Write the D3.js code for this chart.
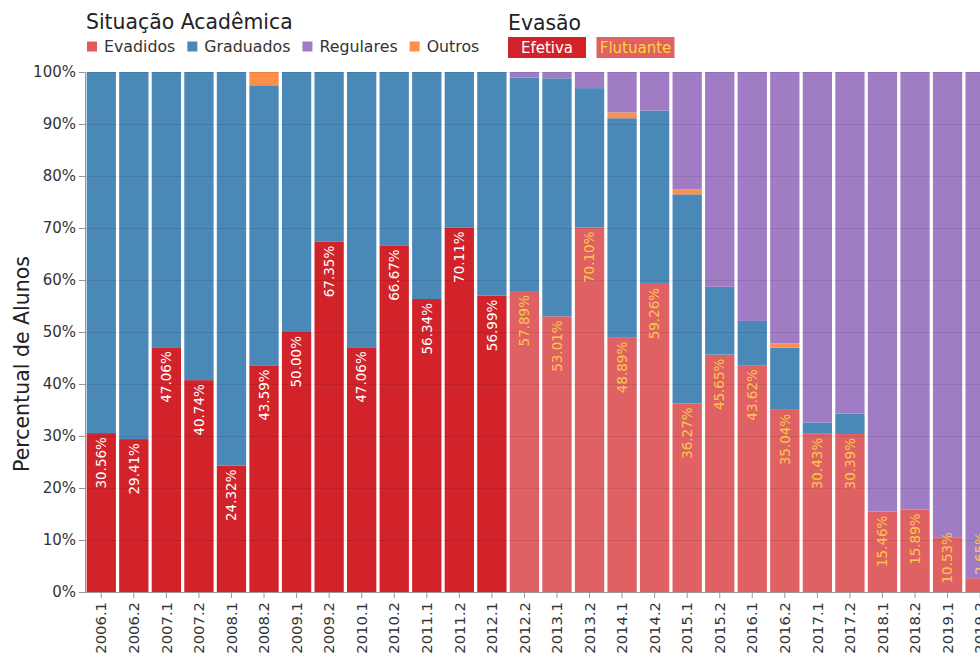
<!DOCTYPE html>
<html>
<head>
<meta charset="utf-8">
<script src="https://cdn.jsdelivr.net/npm/d3@7"></script>
<style>
  body { margin: 0; overflow: hidden; background: #fff; }
  text { font-family: "DejaVu Sans", sans-serif; }
</style>
</head>
<body>
<svg id="chart" width="1000" height="657"></svg>
<script>
// semesters and percentages per academic situation
const semestres = ['2006.1', '2006.2', '2007.1', '2007.2', '2008.1', '2008.2', '2009.1', '2009.2',
  '2010.1', '2010.2', '2011.1', '2011.2', '2012.1', '2012.2', '2013.1', '2013.2', '2014.1', '2014.2',
  '2015.1', '2015.2', '2016.1', '2016.2', '2017.1', '2017.2', '2018.1', '2018.2', '2019.1', '2019.2'];
const evadidos = [30.56, 29.41, 47.06, 40.74, 24.32, 43.59, 50.00, 67.35, 47.06, 66.67, 56.34, 70.11, 56.99,
  57.89, 53.01, 70.10, 48.89, 59.26, 36.27, 45.65, 43.62, 35.04, 30.43, 30.39, 15.46, 15.89, 10.53, 2.65];
const graduados = [69.44, 70.59, 52.94, 59.26, 75.68, 53.85, 50.00, 32.65, 52.94, 33.33, 43.66, 29.89, 43.01,
  41.05, 45.78, 26.80, 42.22, 33.33, 40.20, 13.04, 8.51, 11.97, 2.17, 3.92, 0, 0, 0, 0];
const outros = [0, 0, 0, 0, 0, 2.56, 0, 0, 0, 0, 0, 0, 0,
  0, 0, 0, 1.11, 0, 0.98, 0, 0, 0.79, 0, 0, 0, 0, 0, 0];
const regulares = [0, 0, 0, 0, 0, 0, 0, 0, 0, 0, 0, 0, 0,
  1.06, 1.21, 3.10, 7.78, 7.41, 22.55, 41.31, 47.87, 52.20, 67.40, 65.69, 84.54, 84.11, 89.47, 97.35];
// type of dropout (evasão) per semester
const evasao = ['Efetiva', 'Efetiva', 'Efetiva', 'Efetiva', 'Efetiva', 'Efetiva', 'Efetiva', 'Efetiva',
  'Efetiva', 'Efetiva', 'Efetiva', 'Efetiva', 'Efetiva', 'Flutuante', 'Flutuante', 'Flutuante',
  'Flutuante', 'Flutuante', 'Flutuante', 'Flutuante', 'Flutuante', 'Flutuante', 'Flutuante',
  'Flutuante', 'Flutuante', 'Flutuante', 'Flutuante', 'Flutuante'];

const situacoes = ['Evadidos', 'Graduados', 'Regulares', 'Outros'];
const yTicks = [0, 10, 20, 30, 40, 50, 60, 70, 80, 90, 100];

const color = { Evadidos: '#e05a5c', Graduados: '#4a88b8', Regulares: '#a07cc4', Outros: '#fd8f4b' };
const evasaoFill = { Efetiva: '#d12329', Flutuante: '#e06164' };
const evasaoText = { Efetiva: '#ffffff', Flutuante: '#f9c84a' };

const rows = semestres.map((s, i) => ({
  sem: s, tipo: evasao[i],
  Evadidos: evadidos[i], Graduados: graduados[i], Outros: outros[i], Regulares: regulares[i]
}));

const svg = d3.select('#chart');
const plotLeft = 85, plotTop = 72, plotBottom = 592;

const x = d3.scaleBand()
  .domain(semestres)
  .range([plotLeft, plotLeft + semestres.length * 32.55])
  .paddingInner(0.1)
  .paddingOuter(0.05);

const y = d3.scaleLinear().domain([0, 100]).range([plotBottom, plotTop]);

// stacked bars, bottom to top
const series = d3.stack().keys(['Evadidos', 'Graduados', 'Outros', 'Regulares'])(rows);

svg.append('g').selectAll('g')
  .data(series)
  .join('g')
  .selectAll('rect')
  .data(d => d.map(v => Object.assign(v, { key: d.key })))
  .join('rect')
  .attr('x', d => x(d.data.sem))
  .attr('width', x.bandwidth())
  .attr('y', d => y(d[1]))
  .attr('height', d => y(d[0]) - y(d[1]))
  .attr('fill', d => d.key == 'Evadidos' ? evasaoFill[d.data.tipo] : color[d.key]);

// grid over the bars, faint
svg.append('g').selectAll('line')
  .data(yTicks)
  .join('line')
  .attr('x1', plotLeft).attr('x2', 1000)
  .attr('y1', d => y(d) + 0.5).attr('y2', d => y(d) + 0.5)
  .attr('stroke', '#000').attr('stroke-opacity', 0.08);

// percentage labels, rotated, near top of the evadidos segment
svg.append('g').selectAll('text')
  .data(rows)
  .join('text')
  .attr('transform', d => 'translate(' + (x(d.sem) + x.bandwidth() / 2) + ',' +
    (y(Math.max(d.Evadidos, 12.3)) + 4) + ') rotate(-90)')
  .attr('text-anchor', 'end')
  .attr('dy', '0.35em')
  .attr('font-size', 13.5)
  .attr('fill', d => evasaoText[d.tipo])
  .text(d => d.Evadidos.toFixed(2) + '%');

// axes
const yAxis = svg.append('g')
  .attr('transform', 'translate(' + plotLeft + ',0)')
  .call(d3.axisLeft(y).tickValues(yTicks).tickFormat(d => d + '%').tickSize(6).tickPadding(3));
yAxis.selectAll('text').attr('font-size', 15).attr('fill', '#333').attr('font-family', 'DejaVu Sans');
yAxis.selectAll('line, path').attr('stroke', '#999');

const xAxis = svg.append('g')
  .attr('transform', 'translate(0,' + plotBottom + ')')
  .call(d3.axisBottom(x).tickSize(6).tickSizeOuter(0));
xAxis.select('path').attr('stroke', '#999');
xAxis.selectAll('line').attr('stroke', '#999');
xAxis.selectAll('text')
  .attr('font-size', 14.8).attr('fill', '#333').attr('font-family', 'DejaVu Sans')
  .attr('transform', 'rotate(-90)')
  .attr('text-anchor', 'end')
  .attr('x', -10).attr('y', 0).attr('dy', '0.35em');

svg.append('text')
  .attr('transform', 'translate(29,364) rotate(-90)')
  .attr('text-anchor', 'middle')
  .attr('font-size', 20.5)
  .attr('fill', '#222')
  .text('Percentual de Alunos');

// legend: situação acadêmica
svg.append('text')
  .attr('x', 86).attr('y', 29)
  .attr('font-size', 20.4).attr('fill', '#222')
  .text('Situação Acadêmica');

let lx = 87;
situacoes.forEach(s => {
  svg.append('rect')
    .attr('x', lx).attr('y', 41.5).attr('width', 10).attr('height', 10)
    .attr('fill', color[s]);
  const t = svg.append('text')
    .attr('x', lx + 17).attr('y', 52)
    .attr('font-size', 15.8).attr('fill', '#333')
    .text(s);
  lx += 17 + t.node().getComputedTextLength() + 12;
});

// legend: evasão
svg.append('text')
  .attr('x', 508).attr('y', 30)
  .attr('font-size', 20.4).attr('fill', '#222')
  .text('Evasão');

['Efetiva', 'Flutuante'].forEach((k, i) => {
  const bx = 508 + i * 88.5;
  svg.append('rect')
    .attr('x', bx).attr('y', 37).attr('width', 78).attr('height', 21)
    .attr('fill', evasaoFill[k]);
  svg.append('text')
    .attr('x', bx + 39).attr('y', 53)
    .attr('text-anchor', 'middle')
    .attr('font-size', 15)
    .attr('fill', k == 'Efetiva' ? '#fff' : '#ffd43b')
    .text(k);
});
</script>
</body>
</html>
